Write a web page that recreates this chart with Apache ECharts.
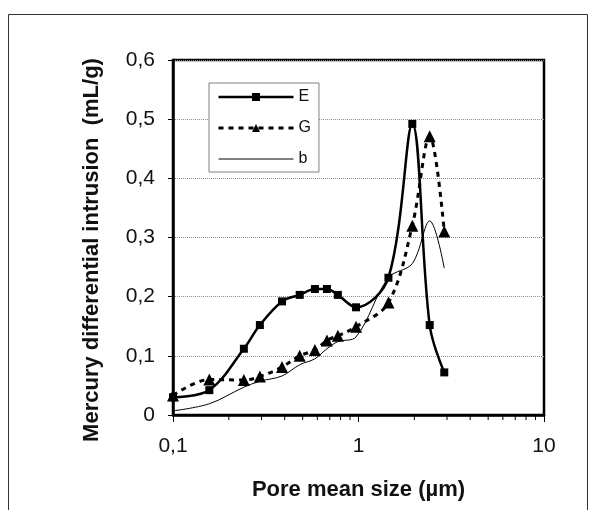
<!DOCTYPE html>
<html>
<head>
<meta charset="utf-8">
<script src="https://cdn.jsdelivr.net/npm/echarts@6/dist/echarts.min.js"></script>
<style>
html,body{margin:0;padding:0;background:#fff;}
#chart{width:595px;height:510px;}
</style>
</head>
<body>
<div id="chart"></div>
<script>
// Pore mean size (µm)
var poreSize = [0.1, 0.157, 0.241, 0.294, 0.387, 0.482, 0.582, 0.676, 0.774, 0.97, 1.45, 1.95, 2.42, 2.9];
// Mercury differential intrusion (mL/g)
var seriesE = [0.030, 0.042, 0.112, 0.152, 0.192, 0.203, 0.213, 0.213, 0.203, 0.182, 0.232, 0.492, 0.152, 0.072];
var seriesG = [0.033, 0.060, 0.059, 0.065, 0.081, 0.100, 0.110, 0.126, 0.134, 0.149, 0.190, 0.320, 0.471, 0.310];
var seriesB = [0.007, 0.019, 0.047, 0.057, 0.066, 0.085, 0.095, 0.112, 0.124, 0.132, 0.232, 0.256, 0.328, 0.248];
var seriesNames = ['E', 'G', 'b'];
var yTicks = [0, 0.1, 0.2, 0.3, 0.4, 0.5, 0.6];
var xMinorTicks = [0.2, 0.3, 0.4, 0.5, 0.6, 0.7, 0.8, 0.9, 2, 3, 4, 5, 6, 7, 8, 9];

function pairs(xs, ys) { return xs.map(function (x, i) { return [x, ys[i]]; }); }
function fmt(v) { return String(+(+v).toPrecision(6)).replace('.', ','); }

var FONT = '"Liberation Sans", Arial, sans-serif';
var chart = echarts.init(document.getElementById('chart'), null, { renderer: 'canvas' });

chart.setOption({
  animation: false,
  backgroundColor: '#fff',
  grid: {
    left: 173, top: 60, width: 371, height: 355,
    show: true, borderColor: '#000', borderWidth: 2.5, backgroundColor: 'transparent'
  },
  legend: {
    data: [
      { name: seriesNames[0], lineStyle: { width: 2.5 } },
      { name: seriesNames[1], lineStyle: { width: 3 } },
      { name: seriesNames[2], lineStyle: { width: 1 }, itemStyle: { opacity: 0 } }
    ],
    orient: 'vertical',
    left: 209, top: 83,
    padding: [6, 8, 5, 8],
    itemWidth: 75, itemHeight: 10, itemGap: 15,
    borderColor: '#808080', borderWidth: 1, backgroundColor: '#fff',
    textStyle: { fontFamily: FONT, fontSize: 16, color: '#111' }
  },
  xAxis: {
    type: 'log', logBase: 10, min: 0.1, max: 10,
    name: 'Pore mean size (\u00b5m)',
    nameLocation: 'middle', nameGap: 64,
    nameTextStyle: { fontFamily: FONT, fontSize: 22, fontWeight: 'bold', color: '#111' },
    axisLine: { lineStyle: { color: '#000', width: 2.5 } },
    axisTick: { show: true, inside: false, length: 7, lineStyle: { color: '#000', width: 1 } },
    axisLabel: { margin: 21, fontFamily: FONT, fontSize: 21, color: '#111', formatter: fmt },
    splitLine: { show: false },
    minorTick: { show: false }
  },
  yAxis: {
    type: 'value', min: yTicks[0], max: yTicks[yTicks.length - 1], interval: 0.1,
    axisLine: { show: true, lineStyle: { color: '#000', width: 2.5 } },
    axisTick: { show: true, inside: false, length: 5, lineStyle: { color: '#000', width: 1 } },
    axisLabel: { margin: 18, fontFamily: FONT, fontSize: 21, color: '#111', formatter: fmt },
    splitLine: { show: true, lineStyle: { color: '#8c8c8c', type: 'dotted', width: 1 } }
  },
  graphic: [
    { type: 'rect', shape: { x: 8.5, y: 14.5, width: 579, height: 520 },
      style: { fill: 'none', stroke: '#333', lineWidth: 1 }, silent: true, z: -1 },
    { type: 'text', x: 92, y: 250, rotation: Math.PI / 2,
      style: { text: 'Mercury differential intrusion  (mL/g)', fontFamily: FONT, fontSize: 22,
               fontWeight: 'bold', fill: '#111', align: 'center', verticalAlign: 'middle' } }
  ],
  series: [
    {
      name: 'E', type: 'line', data: pairs(poreSize, seriesE), smooth: 0.35,
      symbol: 'rect', symbolSize: 8,
      lineStyle: { color: '#000', width: 2.5 },
      itemStyle: { color: '#000' }, z: 4
    },
    {
      name: 'G', type: 'line', data: pairs(poreSize, seriesG), smooth: 0.35,
      symbol: 'triangle', symbolSize: 12,
      lineStyle: { color: '#000', width: 3, type: [5, 5] },
      itemStyle: { color: '#000' }, z: 3
    },
    {
      name: 'b', type: 'line', data: pairs(poreSize, seriesB), smooth: 0.35,
      symbol: 'none', showSymbol: false,
      lineStyle: { color: '#000', width: 1 },
      itemStyle: { color: '#000' }, z: 2
    },
    {
      name: 'minorTicks', type: 'custom', silent: true, clip: false,
      data: xMinorTicks.map(function (v) { return [v, 0]; }),
      encode: { x: 0, y: 1 },
      renderItem: function (params, api) {
        var p = api.coord([api.value(0), 0]);
        return { type: 'line', shape: { x1: p[0], y1: p[1], x2: p[0], y2: p[1] + 5 },
                 style: { stroke: '#000', lineWidth: 1 } };
      }
    }
  ]
});
</script>
</body>
</html>
